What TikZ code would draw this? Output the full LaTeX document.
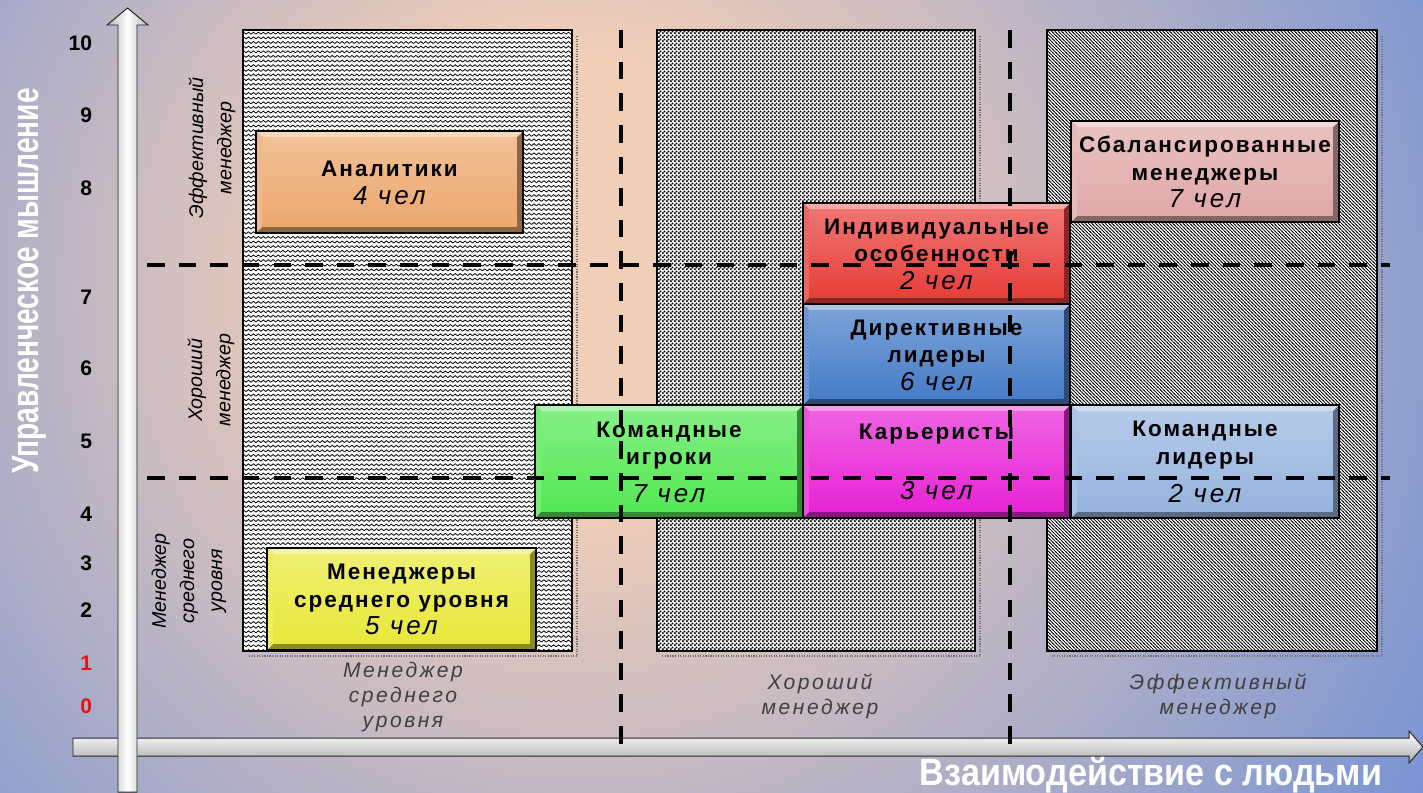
\documentclass[tikz,border=0pt]{standalone}
\usepackage{fontspec}
\setmainfont{Liberation Sans}
\newfontfamily\boxfont[LetterSpace=9]{Liberation Sans}
\newfontfamily\catfont[LetterSpace=12]{Liberation Sans}
\newfontfamily\ytitlefont[FakeStretch=0.74]{Liberation Sans}
\newfontfamily\xtitlefont[FakeStretch=0.9]{Liberation Sans}
\usetikzlibrary{patterns,fit}

\definecolor{bgblue}{RGB}{100,138,216}
\definecolor{bgpeach}{RGB}{241,206,184}
\definecolor{analyst}{RGB}{236,168,110}
\definecolor{midlevel}{RGB}{232,232,58}
\definecolor{teamplay}{RGB}{84,232,84}
\definecolor{indiv}{RGB}{232,62,58}
\definecolor{directive}{RGB}{70,124,200}
\definecolor{careerist}{RGB}{232,36,214}
\definecolor{balanced}{RGB}{224,168,168}
\definecolor{teamlead}{RGB}{150,180,222}
\definecolor{lowred}{RGB}{228,20,20}

\pgfdeclareradialshading{bgshade}{\pgfpoint{-6bp}{5bp}}{color(0bp)=(bgpeach); color(8bp)=(bgpeach); color(37bp)=(bgblue); color(70bp)=(bgblue)}

% column fillings
\pgfdeclarepatternformonly{zigzag}{\pgfqpoint{-1pt}{-1pt}}{\pgfqpoint{4.5pt}{4.3pt}}{\pgfqpoint{3.5pt}{3.3pt}}{
  \pgfsetlinewidth{0.55pt}
  \pgfpathmoveto{\pgfqpoint{0pt}{1pt}}
  \pgfpathlineto{\pgfqpoint{1.75pt}{2.4pt}}
  \pgfpathlineto{\pgfqpoint{3.5pt}{1pt}}
  \pgfusepath{stroke}
}
\pgfdeclarepatternformonly{checks}{\pgfqpoint{0pt}{0pt}}{\pgfqpoint{2.6pt}{2.6pt}}{\pgfqpoint{2.6pt}{2.6pt}}{
  \pgfpathrectangle{\pgfqpoint{0pt}{0pt}}{\pgfqpoint{1.3pt}{1.3pt}}
  \pgfpathrectangle{\pgfqpoint{1.3pt}{1.3pt}}{\pgfqpoint{1.3pt}{1.3pt}}
  \pgfusepath{fill}
}
\pgfdeclarepatternformonly{nwlines}{\pgfqpoint{-1pt}{-1pt}}{\pgfqpoint{3.4pt}{3.4pt}}{\pgfqpoint{2.4pt}{2.4pt}}{
  \pgfsetlinewidth{0.5pt}
  \pgfpathmoveto{\pgfqpoint{-0.5pt}{2.9pt}}
  \pgfpathlineto{\pgfqpoint{2.9pt}{-0.5pt}}
  \pgfusepath{stroke}
}

\newcommand\chel[1]{{\mdseries\itshape\catfont\fontsize{18.5}{19.5}\selectfont #1 чел}}

\tikzset{
  box/.style={draw=black, line width=1.2pt, inner sep=0pt,
    path picture={
      \coordinate (bsw) at (path picture bounding box.south west);
      \coordinate (bne) at (path picture bounding box.north east);
      \coordinate (bnw) at (path picture bounding box.north west);
      \fill[#1!60!black] (bsw) rectangle (bne);
      \fill[#1!45!white] (bnw) -- (bne) -- ([shift={(-4.5pt,-4.5pt)}]bne)
        -- ([shift={(4.5pt,-4.5pt)}]bnw) -- cycle;
      \fill[#1!80!white] (bnw) -- ([shift={(4.5pt,-4.5pt)}]bnw)
        -- ([shift={(4.5pt,4.5pt)}]bsw) -- (bsw) -- cycle;
      \shade[top color=#1!72!white, bottom color=#1]
        ([shift={(4.5pt,4.5pt)}]bsw) rectangle ([shift={(-4.5pt,-4.5pt)}]bne);
    }},
  boxtext/.style={align=center, yshift=-0.5pt, inner sep=0pt,
    font=\boxfont\fontsize{16}{19.5}\selectfont\bfseries},
  divide/.style={line width=2.8pt, dash pattern=on 12.5pt off 10pt},
  tick/.style={anchor=east, font=\fontsize{15}{15}\selectfont\bfseries},
  rowlab/.style={rotate=90, align=center, font=\fontsize{14}{20}\selectfont\itshape},
  collab/.style={align=center, text=black!75, font=\catfont\fontsize{15}{17.8}\selectfont\itshape}
}

\begin{document}
\begin{tikzpicture}[x=0.025cm,y=-0.025cm]

\useasboundingbox (0,0) rectangle (1423,792);

\begin{scope}
\clip (0,0) rectangle (1423,792);
\shade[shading=bgshade] (0,-300) rectangle (1423,1100);
\end{scope}

% three columns
\foreach \xa/\xb/\pat in {243/572/zigzag, 657/975/checks, 1047/1377/nwlines}{
  \draw[densely dotted, black!55, line width=0.8pt] (\xb+5,36) -- (\xb+5,656) -- (\xa+5,656);
  \draw[line width=1.6pt, preaction={fill=white}, pattern=\pat] (\xa,30) rectangle (\xb,651);
}

% axes
\shade[top color=white, bottom color=gray!65, draw=black!85, line width=0.7pt]
  (73,738) -- (1409,738) -- (1409,731) -- (1423,747) -- (1409,763) -- (1409,756) -- (73,756) -- cycle;
\shade[left color=gray!60, right color=gray!55, middle color=white, draw=black!85, line width=0.7pt]
  (118,792) -- (118,25) -- (107,25) -- (127.5,8) -- (148,25) -- (137,25) -- (137,792) -- cycle;

\foreach \v/\y in {10/43, 9/115, 8/188, 7/297, 6/368, 5/441, 4/514, 3/563, 2/610}
  \node[tick] (t\v) at (97,\y) {\v};
\node[tick, text=lowred] (t1) at (97,663) {1};
\node[tick, text=lowred] (t0) at (97,706) {0};

% groups
\node[box=analyst, fit={(256,131) (523,233)}] (analyst) {};
\node[boxtext] (analyst-t) at (analyst) {Аналитики\\\chel{4}};
\node[box=midlevel, fit={(267,548) (536,650)}] (midlevel) {};
\node[boxtext] (midlevel-t) at (midlevel) {Менеджеры\\среднего уровня\\\chel{5}};
\node[box=teamplay, fit={(535,405) (803,518)}] (teamplay) {};
\node[boxtext] (teamplay-t) at (teamplay) {Командные\\игроки\\[7pt]\chel{7}};
\node[box=indiv, fit={(803,203) (1070,304)}] (indiv) {};
\node[boxtext] (indiv-t) at (indiv) {Индивидуальные\\особенности\\\chel{2}};
\node[box=directive, fit={(803,304) (1070,405)}] (directive) {};
\node[boxtext] (directive-t) at (directive) {Директивные\\лидеры\\\chel{6}};
\node[box=careerist, fit={(803,405) (1070,518)}] (careerist) {};
\node[boxtext] (careerist-t) at (careerist) {Карьеристы\\[23pt]\chel{3}};
\node[box=balanced, fit={(1071,121) (1339,222)}] (balanced) {};
\node[boxtext] (balanced-t) at (balanced) {Сбалансированные\\менеджеры\\\chel{7}};
\node[box=teamlead, fit={(1071,405) (1339,518)}] (teamlead) {};
\node[boxtext] (teamlead-t) at (teamlead) {Командные\\лидеры\\[8pt]\chel{2}};

% borders between levels
\draw[divide] (147,265) -- (1390,265);
\draw[divide] (147,478) -- (1390,478);
\draw[divide] (621,30) -- (621,745);
\draw[divide] (1010,30) -- (1010,745);

\node[rowlab] (rowtop) at (212,148) {Эффективный\\менеджер};
\node[rowlab] (rowmid) at (211,380) {Хороший\\менеджер};
\node[rowlab] (rowlow) at (189,581) {Менеджер\\среднего\\уровня};

\node[collab] (collow) at (403,697) {Менеджер\\среднего\\уровня};
\node[collab] (colmid) at (820,696) {Хороший\\менеджер};
\node[collab] (coltop) at (1218,696) {Эффективный\\менеджер};

\node[rotate=90, text=white, font=\ytitlefont\fontsize{27}{27}\selectfont\bfseries] (ytitle) at (29,281) {Управленческое мышление};
\node[text=white, font=\xtitlefont\fontsize{27}{27}\selectfont\bfseries] (xtitle) at (1151,775) {Взаимодействие с людьми};

\end{tikzpicture}
\end{document}
